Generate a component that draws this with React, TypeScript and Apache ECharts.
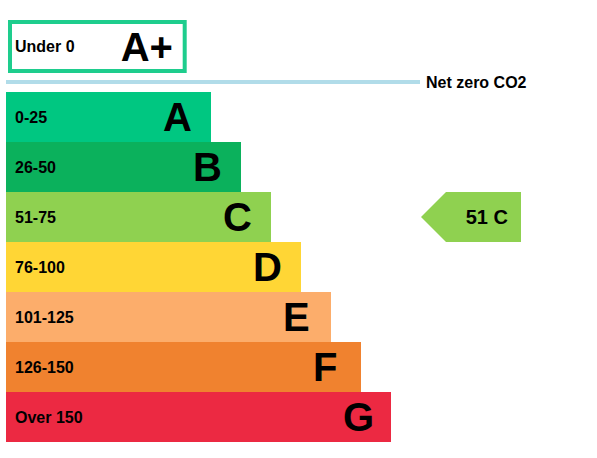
import React from 'react';
import { useEffect, useRef } from 'react';
import * as echarts from 'echarts';

// bands, lowest (best) first
const bands = ['A', 'B', 'C', 'D', 'E', 'F', 'G'];
const ranges = ['0-25', '26-50', '51-75', '76-100', '101-125', '126-150', 'Over 150'];
// relative bar lengths (5px per unit)
const barLengths = [41, 47, 53, 59, 65, 71, 77];
const bandColors = ['#00c781', '#0bb15c', '#8fd150', '#ffd635', '#fcad6b', '#f0822f', '#ec2942'];

// the outlined band above the net zero line
const topBand = 'A+';
const topRange = 'Under 0';
const topLength = 35.8;
const topColor = '#1ecd8d';

const netZeroLabel = 'Net zero CO2';

// current rating pointer
const currentScore = 51;
const currentBand = 'C';
const pointerX = 93;

const FONT = '"Liberation Sans", Arial, sans-serif';

const App: React.FC = () => {
  const chartRef = useRef<HTMLDivElement>(null);

  useEffect(() => {
    if (!chartRef.current) return;
    const chart = echarts.init(chartRef.current, null, { renderer: 'svg' });

    const bandIndex = bands.indexOf(currentBand);

    const option = {
      animation: false,
      textStyle: { fontFamily: FONT },
      grid: [
        { left: 6, top: 92, width: 590, height: 350 },
        { left: 8, top: 20, width: 590, height: 53 }
      ],
      xAxis: [
        { type: 'value', gridIndex: 0, min: 0, max: 118, show: false },
        { type: 'value', gridIndex: 1, min: 0, max: 118, show: false }
      ],
      yAxis: [
        { type: 'category', gridIndex: 0, data: bands, inverse: true, show: false },
        { type: 'category', gridIndex: 1, data: [topBand], show: false }
      ],
      graphic: [
        {
          type: 'line',
          shape: { x1: 6, y1: 82, x2: 420, y2: 82 },
          style: { stroke: '#b1dce9', lineWidth: 4 }
        },
        {
          type: 'text',
          x: 426,
          y: 82,
          style: {
            text: netZeroLabel,
            font: `bold 16px ${FONT}`,
            fill: '#000',
            verticalAlign: 'middle'
          }
        }
      ],
      series: [
        {
          name: 'bands',
          type: 'bar',
          xAxisIndex: 0,
          yAxisIndex: 0,
          barWidth: 50,
          data: barLengths.map((v, i) => ({ value: v, itemStyle: { color: bandColors[i] } })),
          label: {
            show: true,
            position: 'insideLeft',
            distance: 9,
            formatter: (p: any) => ranges[p.dataIndex],
            color: '#000',
            fontWeight: 'bold',
            fontSize: 16,
            fontFamily: FONT
          }
        },
        {
          name: 'letters',
          type: 'bar',
          xAxisIndex: 0,
          yAxisIndex: 0,
          barWidth: 50,
          barGap: '-100%',
          data: barLengths,
          itemStyle: { color: 'rgba(0,0,0,0)' },
          label: {
            show: true,
            position: ['100%', '50%'],
            offset: [-48, 0],
            align: 'left',
            verticalAlign: 'middle',
            formatter: (p: any) => bands[p.dataIndex],
            color: '#000',
            fontWeight: 'bold',
            fontSize: 40,
            fontFamily: FONT
          }
        },
        {
          name: 'top',
          type: 'bar',
          xAxisIndex: 1,
          yAxisIndex: 1,
          barWidth: 53,
          data: [topLength],
          itemStyle: { color: '#fff', borderColor: topColor, borderWidth: 4 },
          label: {
            show: true,
            position: 'insideLeft',
            distance: 7,
            formatter: topRange,
            color: '#000',
            fontWeight: 'bold',
            fontSize: 16,
            fontFamily: FONT
          }
        },
        {
          name: 'topLetter',
          type: 'bar',
          xAxisIndex: 1,
          yAxisIndex: 1,
          barWidth: 53,
          barGap: '-100%',
          data: [topLength],
          itemStyle: { color: 'rgba(0,0,0,0)' },
          label: {
            show: true,
            position: ['100%', '50%'],
            offset: [-66, 0],
            align: 'left',
            verticalAlign: 'middle',
            formatter: topBand,
            color: '#000',
            fontWeight: 'bold',
            fontSize: 40,
            fontFamily: FONT
          }
        },
        {
          name: 'current',
          type: 'scatter',
          xAxisIndex: 0,
          yAxisIndex: 0,
          symbol: 'path://M0,25L25,0L100,0L100,50L25,50Z',
          symbolSize: [100, 50],
          itemStyle: { color: bandColors[bandIndex], opacity: 1 },
          data: [[pointerX, currentBand]],
          label: {
            show: true,
            position: 'insideRight',
            distance: 13,
            formatter: `${currentScore} ${currentBand}`,
            color: '#000',
            fontWeight: 'bold',
            fontSize: 20,
            fontFamily: FONT
          },
          z: 5
        }
      ]
    };

    chart.setOption(option);

    return () => {
      chart.dispose();
    };
  }, []);

  return (
    <div
      ref={chartRef}
      style={{ position: 'fixed', left: 0, top: 0, width: '597px', height: '458px', background: '#fff' }}
    ></div>
  );
};

export default App;
